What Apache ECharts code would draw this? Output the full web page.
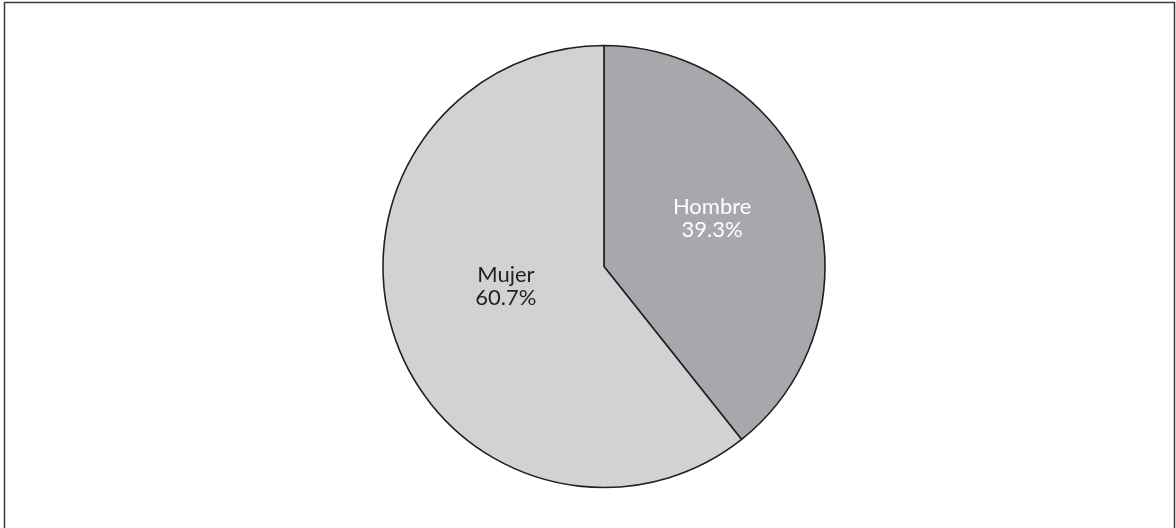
<!DOCTYPE html>
<html>
<head>
<meta charset="utf-8">
<style>
  html, body { margin: 0; padding: 0; background: #ffffff; }
  #chart { width: 1176px; height: 528px; }
</style>
<script src="https://cdn.jsdelivr.net/npm/echarts@6/dist/echarts.min.js"></script>
</head>
<body>
<div id="chart"></div>
<script>
// Distribution by sex
const categories = ['Hombre', 'Mujer'];
const shares = [39.3, 60.7];

// Per-slice appearance
const sliceColors = { Hombre: '#a7a8ab', Mujer: '#d1d2d4' };
const labelColors = { Hombre: '#ffffff', Mujer: '#231f20' };
const labelOffsets = { Hombre: [1, -11], Mujer: [9, -18] };

const chart = echarts.init(document.getElementById('chart'), null, { renderer: 'canvas' });

const data = categories.map((name, i) => ({
  name: name,
  value: shares[i],
  itemStyle: { color: sliceColors[name] },
  label: { color: labelColors[name], offset: labelOffsets[name] }
}));

chart.setOption({
  animation: false,
  backgroundColor: '#ffffff',
  graphic: [{
    type: 'rect',
    shape: { x: 4.5, y: 2.5, width: 1170, height: 530 },
    style: { fill: 'none', stroke: '#3a3a3a', lineWidth: 1.5 },
    silent: true
  }],
  series: [{
    type: 'pie',
    center: [604, 266.5],
    radius: [0, 221],
    startAngle: 90,
    clockwise: true,
    avoidLabelOverlap: false,
    itemStyle: { borderColor: '#231f20', borderWidth: 1.6 },
    label: {
      show: true,
      position: 'inside',
      fontFamily: 'Lato',
      fontSize: 22,
      lineHeight: 23,
      formatter: p => p.name + '\n' + p.value.toFixed(1) + '%'
    },
    labelLine: { show: false },
    emphasis: { disabled: true },
    data: data
  }]
});
</script>
</body>
</html>
